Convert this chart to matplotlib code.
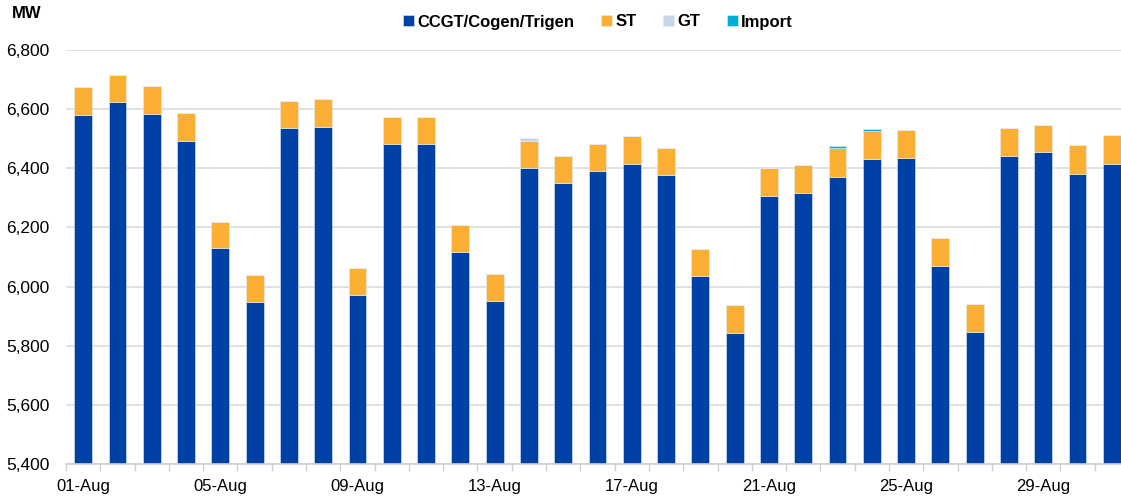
import numpy as np
import matplotlib.pyplot as plt

plt.rcParams['font.family'] = ['Liberation Sans', 'DejaVu Sans']

# daily data, 01-Aug .. 31-Aug
days = ['%02d-Aug' % d for d in range(1, 32)]
ccgt = [6580, 6624, 6585, 6492, 6129, 5949, 6537, 6541, 5971, 6482, 6482,
        6118, 5951, 6402, 6351, 6392, 6416, 6377, 6035, 5844, 6307, 6317,
        6372, 6431, 6435, 6070, 5847, 6441, 6455, 6382, 6416]
st = [94, 91, 94, 94, 89, 90, 91, 92, 92, 91, 91, 91, 91, 90, 90, 90,
      92, 90, 92, 93, 95, 95, 95, 95, 94, 94, 95, 94, 92, 96, 96]
gt = [0, 0, 0, 0, 0, 0, 0, 0, 0, 0, 0, 0, 0, 10, 0, 0,
      0, 0, 0, 0, 0, 0, 2, 0, 0, 0, 0, 0, 0, 0, 0]
imp = [0, 0, 0, 0, 0, 0, 0, 0, 0, 0, 0, 0, 0, 0, 0, 0,
       0, 0, 0, 0, 0, 0, 5, 7, 0, 0, 0, 0, 0, 0, 0]
tick_labels = ['01-Aug', '05-Aug', '09-Aug', '13-Aug', '17-Aug', '21-Aug', '25-Aug', '29-Aug']

series = [('CCGT/Cogen/Trigen', ccgt, '#0041A6'),
          ('ST', st, '#FBB034'),
          ('GT', gt, '#C6D7EA'),
          ('Import', imp, '#00AEDC')]

fig = plt.figure(figsize=(11.21, 4.99), dpi=100)
ax = fig.add_axes([66 / 1121, 35 / 499, 1063 / 1121, 414 / 499])

x = np.arange(len(days))
bottom = np.zeros(len(days))
for name, vals, col in series:
    vals = np.array(vals, dtype=float)
    ax.bar(x, vals, 0.52, bottom=bottom, color=col, label=name,
           edgecolor='#E4ECF7', linewidth=0.4)
    bottom += vals

ax.set_ylim(5400, 6800)
ax.set_xlim(-0.5, len(days) - 0.5)
ax.set_yticks(np.arange(5400, 6801, 200))
ax.set_yticklabels(['{:,}'.format(v) for v in range(5400, 6801, 200)], fontsize=12.5)
ax.yaxis.grid(True, color='#DCDCDC', linewidth=1.2)
ax.set_axisbelow(True)
ax.tick_params(axis='y', length=0, pad=12)

ax.set_xticks([days.index(t) for t in tick_labels])
ax.set_xticklabels(tick_labels, fontsize=12)
ax.set_xticks(np.arange(-0.5, len(days), 1), minor=True)
ax.tick_params(axis='x', which='major', length=0, pad=11)
ax.tick_params(axis='x', which='minor', length=5, color='#D0D0D0', width=1)

for s in ['top', 'right', 'left']:
    ax.spines[s].set_visible(False)
ax.spines['bottom'].set_color('#D0D0D0')
ax.spines['bottom'].set_linewidth(1.2)

fig.text(12 / 1121, 1 - 14 / 499, 'MW', fontsize=12, fontweight='bold', va='center')

leg = fig.legend(loc='center', bbox_to_anchor=(598 / 1121, 1 - 22 / 499), ncol=4,
                 frameon=False, prop={'weight': 'bold', 'size': 12},
                 handlelength=0.65, handleheight=0.65, handletextpad=0.2,
                 columnspacing=1.6)

fig.savefig('out.png', dpi=100)
